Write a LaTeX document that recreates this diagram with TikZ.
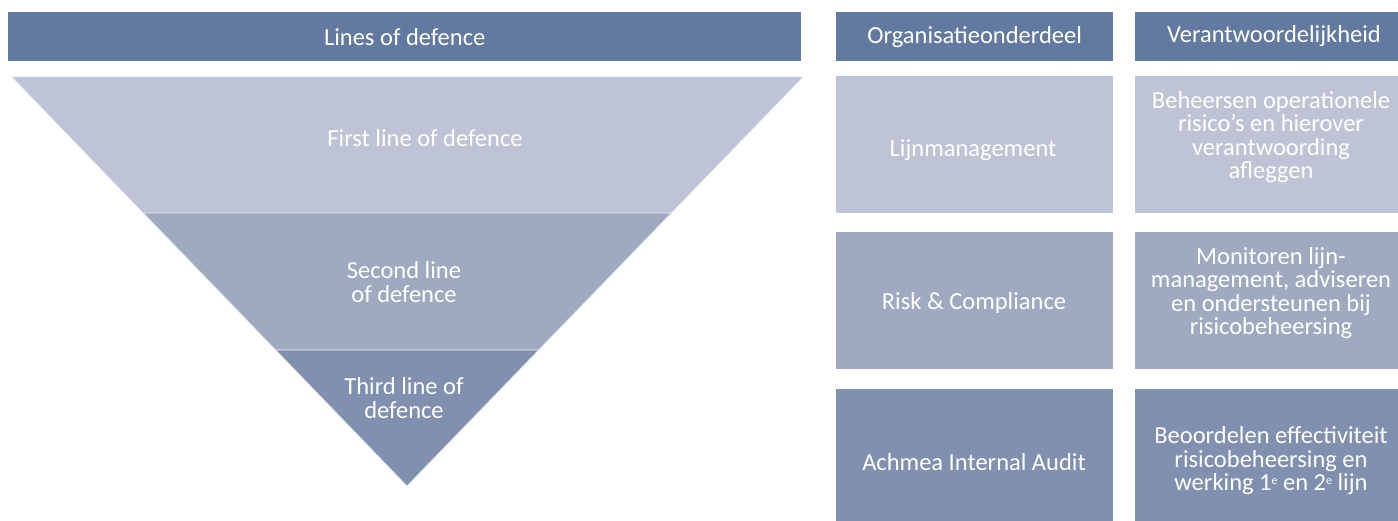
\documentclass[tikz,border=0pt]{standalone}
\usepackage{fontspec}
\setmainfont{Carlito}
\definecolor{hdrblue}{RGB}{99,122,160}
\definecolor{lineone}{RGB}{190,196,213}
\definecolor{linetwo}{RGB}{159,170,193}
\definecolor{linethree}{RGB}{128,144,174}
\newcommand{\supe}{\raisebox{6pt}{\fontsize{12}{12}\selectfont e}}

\begin{document}
\begin{tikzpicture}[x=1pt, y=-1pt,
	every node/.style={inner sep=0pt, text=white, align=center, font=\fontsize{24.5}{23.5}\selectfont},
	hdr/.style={rectangle, fill=hdrblue, anchor=north west, minimum height=49pt},
	cell/.style={rectangle, anchor=north west, minimum width=277pt, minimum height=137pt},
	band/.style={draw=white!55!lineone, line width=0.8pt}]
			\useasboundingbox (0,0) rectangle (1398,521);
			
			% headers
			\node[hdr, minimum width=793pt] (lines) at (8,12) {Lines of defence};
			\node[hdr, minimum width=277pt] (org) at (836,12) {Organisatieonderdeel};
			\node[hdr, minimum width=277pt] (resp) at (1135,12) {};
			\node (resptext) at (1274,36.5) {Verantwoordelijkheid};
			
			% triangle
			\coordinate (tl) at (12,77);
			\coordinate (tr) at (803,77);
			\coordinate (al) at (143.3,213);
			\coordinate (ar) at (671.3,213);
			\coordinate (bl) at (275.7,350);
			\coordinate (br) at (538.7,350);
			\coordinate (apex) at (407,486);
			\path[band, fill=lineone] (tl) -- (tr) -- (ar) -- (al) -- cycle;
			\path[band, fill=linetwo] (al) -- (ar) -- (br) -- (bl) -- cycle;
			\path[band, fill=linethree] (bl) -- (br) -- (apex) -- cycle;
			
			\node (first) at (425,138) {First line of defence};
			\node (second) at (404,282) {Second line\\of defence};
			\node (third) at (404,398) {Third line of\\defence};
			
			% cells
			\node[cell, fill=lineone] (orgone) at (836,76) {};
			\node[cell, fill=linetwo] (orgtwo) at (836,232) {};
			\node[cell, fill=linethree] (orgthree) at (836,389) {};
			\node[cell, fill=lineone] (respone) at (1135,76) {};
			\node[cell, fill=linetwo] (resptwo) at (1135,232) {};
			\node[cell, fill=linethree] (respthree) at (1135,389) {};
			
			\node (lijn) at (973,150) {Lijnmanagement};
			\node (risk) at (974,303) {Risk \& Compliance};
			\node (audit) at (974,462) {Achmea Internal Audit};
			
			\node (beheer) at (1271,137) {Beheersen operationele\\risico’s en hierover\\verantwoording\\afleggen};
			\node (monitor) at (1271,293) {Monitoren lijn-\\management, adviseren\\en ondersteunen bij\\risicobeheersing};
			\node (beoordeel) at (1271,461) {Beoordelen effectiviteit\\risicobeheersing en\\werking 1\supe{} en 2\supe{} lijn};
			\end{tikzpicture}
\end{document}
